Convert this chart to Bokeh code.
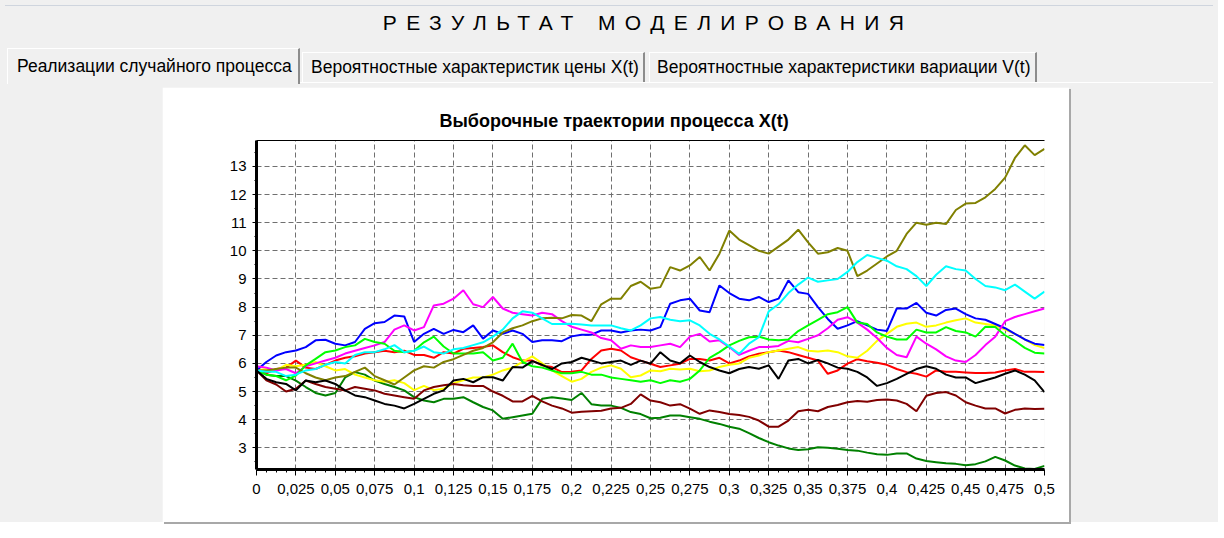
from bokeh.plotting import figure
from bokeh.models import Range1d, FixedTicker, CustomJSTickFormatter, LinearAxis, Div, Spacer
from bokeh.layouts import column, row
from bokeh.embed import file_html
from bokeh.resources import INLINE

# ---------------- data ----------------
T = [round(i * 0.00625, 5) for i in range(81)]

RED = [5.75, 5.65, 5.8, 5.85, 6.1, 5.85, 5.8, 5.95, 6.1, 6.2,
       6.25, 6.35, 6.4, 6.45, 6.4, 6.45, 6.3, 6.3, 6.2, 6.4,
       6.35, 6.52, 6.55, 6.58, 6.64, 6.4, 6.22, 6.1, 6.1, 5.93,
       5.87, 5.69, 5.7, 5.75, 6.16, 6.46, 6.52, 6.46, 6.22, 6.1,
       5.99, 5.87, 5.93, 5.99, 6.16, 6.16, 6.1, 6.2, 6.0, 6.1,
       6.25, 6.34, 6.4, 6.46, 6.4, 6.3, 6.2, 6.1, 5.63, 5.75,
       5.99, 6.15, 6.08, 6.02, 5.95, 5.8, 5.69, 5.63, 5.53, 5.75,
       5.7, 5.7, 5.68, 5.66, 5.66, 5.68, 5.75, 5.8, 5.7, 5.7, 5.69]

GREEN = [5.75, 5.6, 5.55, 5.55, 5.39, 5.16, 4.95, 4.86, 4.95, 5.5,
         5.69, 5.6, 5.39, 5.27, 5.16, 5.04, 4.8, 4.68, 4.62, 4.74,
         4.74, 4.8, 4.62, 4.45, 4.33, 4.03, 4.09, 4.15, 4.21, 4.74,
         4.8, 4.75, 4.7, 4.95, 4.55, 4.5, 4.5, 4.42, 4.27, 4.2,
         4.05, 4.07, 4.15, 4.15, 4.09, 4.03, 3.93, 3.85, 3.75, 3.68,
         3.52, 3.35, 3.2, 3.08, 2.98, 2.92, 2.95, 3.02, 3.0, 2.97,
         2.92, 2.9, 2.83, 2.77, 2.75, 2.8, 2.8, 2.62, 2.53, 2.49,
         2.45, 2.43, 2.38, 2.42, 2.52, 2.68, 2.55, 2.37, 2.27, 2.25, 2.36]

YELLOW = [5.75, 5.8, 5.75, 5.95, 5.9, 5.95, 6.05, 5.9, 5.75, 5.8,
          5.6, 5.5, 5.4, 5.35, 5.4, 5.3, 5.05, 5.2, 5.05, 5.1,
          5.3, 5.4, 5.5, 5.5, 5.6, 5.75, 5.85, 6.05, 6.25, 6.0,
          5.75, 5.55, 5.35, 5.45, 5.7, 5.85, 5.93, 5.81, 5.51, 5.57,
          5.75, 5.72, 5.81, 5.78, 5.81, 5.72, 5.75, 5.87, 5.95, 6.0,
          6.2, 6.28, 6.4, 6.46, 6.52, 6.58, 6.45, 6.42, 6.46, 6.4,
          6.25, 6.2, 6.45, 6.8, 7.05, 7.3, 7.41, 7.45, 7.3, 7.35,
          7.45, 7.53, 7.6, 7.45, 7.4, 7.35, 7.2, 7.05, 6.85, 6.65, 6.55]

BLUE = [5.75, 6.05, 6.28, 6.4, 6.46, 6.58, 6.82, 6.84, 6.70, 6.64,
        6.76, 7.23, 7.43, 7.47, 7.70, 7.67, 6.76, 7.05, 7.23, 7.05,
        7.19, 7.11, 7.35, 6.88, 7.17, 7.05, 7.17, 7.05, 6.76, 6.82,
        6.82, 6.79, 6.96, 7.02, 7.02, 7.17, 7.17, 7.1, 7.17, 7.2,
        7.17, 7.29, 8.12, 8.24, 8.3, 7.88, 7.82, 8.77, 8.5, 8.3,
        8.24, 8.36, 8.18, 8.3, 8.95, 8.53, 8.47, 8.0, 7.58, 7.23,
        7.35, 7.5, 7.35, 7.2, 7.15, 7.95, 7.95, 8.15, 7.8, 7.7,
        7.9, 7.95, 7.75, 7.6, 7.55, 7.4, 7.25, 7.05, 6.85, 6.7, 6.65]

MAGENTA = [5.9, 5.85, 5.75, 5.8, 5.65, 5.9, 6.0, 6.1, 6.2, 6.35,
           6.45, 6.55, 6.64, 6.76, 7.2, 7.35, 7.17, 7.29, 8.06, 8.12,
           8.3, 8.6, 8.1, 8.0, 8.36, 7.95, 7.8, 7.75, 7.7, 7.8,
           7.75, 7.5, 7.3, 7.2, 7.1, 6.9, 6.82, 6.52, 6.64, 6.58,
           6.58, 6.64, 6.7, 6.58, 6.95, 7.05, 6.78, 6.82, 6.58, 6.3,
           6.45, 6.58, 6.58, 6.62, 6.8, 6.75, 6.87, 7.0, 7.25, 7.55,
           7.64, 7.45, 7.2, 6.9, 6.55, 6.3, 6.22, 6.95, 6.7, 6.5,
           6.25, 6.1, 6.05, 6.3, 6.65, 6.95, 7.5, 7.65, 7.75, 7.85, 7.95]

MAROON = [5.75, 5.4, 5.25, 5.0, 5.1, 5.39, 5.27, 5.16, 5.1, 5.04,
          5.16, 5.1, 5.04, 4.92, 4.86, 4.8, 4.74, 5.04, 5.16, 5.22,
          5.27, 5.22, 5.2, 5.2, 5.0, 4.85, 4.65, 4.65, 4.85, 4.65,
          4.5, 4.4, 4.25, 4.28, 4.3, 4.32, 4.4, 4.42, 4.56, 4.9,
          4.68, 4.62, 4.5, 4.55, 4.39, 4.21, 4.33, 4.27, 4.2, 4.17,
          4.1, 3.97, 3.75, 3.75, 3.97, 4.3, 4.35, 4.3, 4.45, 4.52,
          4.62, 4.66, 4.64, 4.7, 4.72, 4.68, 4.56, 4.3, 4.85, 4.95,
          4.98, 4.86, 4.62, 4.5, 4.4, 4.4, 4.22, 4.35, 4.4, 4.38, 4.39]

LIME = [5.75, 5.6, 5.55, 5.4, 5.57, 5.93, 6.16, 6.4, 6.46, 6.58,
        6.64, 6.87, 6.76, 6.7, 6.45, 6.4, 6.45, 6.75, 6.95, 6.6,
        6.35, 6.35, 6.35, 6.4, 6.1, 6.2, 6.7, 6.05, 5.9, 5.85,
        5.75, 5.65, 5.65, 5.7, 5.6, 5.6, 5.5, 5.45, 5.4, 5.35,
        5.4, 5.3, 5.4, 5.35, 5.45, 5.75, 6.2, 6.4, 6.64, 6.8,
        6.93, 6.95, 6.85, 6.82, 6.85, 7.15, 7.35, 7.55, 7.75, 7.82,
        8.0, 7.45, 7.4, 7.1, 6.95, 6.85, 6.85, 7.2, 7.1, 7.1,
        7.29, 7.15, 7.1, 6.95, 7.3, 7.29, 7.0, 6.8, 6.55, 6.38, 6.35]

OLIVE = [5.75, 5.75, 5.8, 5.85, 5.85, 5.65, 5.5, 5.4, 5.5, 5.55,
         5.7, 5.85, 5.55, 5.4, 5.25, 5.5, 5.75, 5.9, 5.85, 6.05,
         6.15, 6.3, 6.45, 6.55, 6.75, 7.1, 7.25, 7.35, 7.5, 7.6,
         7.62, 7.6, 7.72, 7.7, 7.5, 8.1, 8.3, 8.3, 8.75, 8.9,
         8.65, 8.71, 9.42, 9.3, 9.48, 9.78, 9.3, 9.9, 10.72, 10.4,
         10.2, 10.0, 9.9, 10.15, 10.4, 10.75, 10.3, 9.9, 9.95, 10.1,
         10.0, 9.1, 9.3, 9.55, 9.8, 10.0, 10.6, 11.0, 10.93, 11.0,
         10.95, 11.45, 11.68, 11.7, 11.9, 12.2, 12.6, 13.3, 13.75, 13.4, 13.62]

CYAN = [5.75, 5.7, 5.7, 5.55, 5.6, 5.75, 5.8, 5.95, 6.05, 6.0,
        6.3, 6.4, 6.4, 6.5, 6.65, 6.4, 6.45, 6.6, 6.4, 6.35,
        6.5, 6.55, 6.65, 6.75, 6.95, 7.2, 7.6, 7.85, 7.8, 7.6,
        7.4, 7.4, 7.41, 7.38, 7.35, 7.35, 7.35, 7.25, 7.17, 7.35,
        7.6, 7.65, 7.55, 7.5, 7.53, 7.35, 7.05, 6.85, 6.6, 6.34,
        6.7, 6.93, 7.85, 8.1, 8.5, 8.8, 9.05, 8.9, 8.95, 9.0,
        9.25, 9.6, 9.85, 9.75, 9.65, 9.45, 9.35, 9.1, 8.75, 9.15,
        9.45, 9.35, 9.3, 9.0, 8.75, 8.7, 8.6, 8.8, 8.55, 8.3, 8.55]

BLACK = [5.75, 5.45, 5.33, 5.27, 5.04, 5.39, 5.33, 5.39, 5.27, 5.04,
         4.86, 4.8, 4.68, 4.56, 4.5, 4.4, 4.56, 4.74, 4.92, 5.04,
         5.39, 5.45, 5.33, 5.51, 5.51, 5.39, 5.87, 5.85, 6.08, 5.95,
         5.8, 6.0, 6.05, 6.2, 6.1, 6.0, 6.05, 6.1, 5.95, 6.1,
         5.99, 6.4, 6.1, 6.0, 6.28, 6.05, 5.87, 5.75, 5.65, 5.8,
         5.87, 5.81, 5.93, 5.45, 6.1, 6.16, 6.0, 6.12, 6.0, 5.85,
         5.81, 5.7, 5.5, 5.2, 5.3, 5.45, 5.63, 5.8, 5.9, 5.81,
         5.6, 5.5, 5.5, 5.3, 5.4, 5.5, 5.63, 5.75, 5.6, 5.4, 4.98]

SERIES = [
    ("red", RED, "#ff0000"),
    ("green", GREEN, "#008000"),
    ("yellow", YELLOW, "#ffff00"),
    ("blue", BLUE, "#0000ff"),
    ("magenta", MAGENTA, "#ff00ff"),
    ("maroon", MAROON, "#800000"),
    ("lime", LIME, "#00ff00"),
    ("olive", OLIVE, "#808000"),
    ("cyan", CYAN, "#00ffff"),
    ("black", BLACK, "#000000"),
]

X_TICKS = [round(i * 0.025, 4) for i in range(21)]
X_MINOR = [round(i * 0.00625, 5) for i in range(81) if i % 4]
Y_TICKS = list(range(3, 14))
Y_MINOR = [y + 0.5 for y in range(2, 14)]
Y_MIN, Y_MAX = 2.23, 13.92

MAIN_TITLE = "РЕЗУЛЬТАТ МОДЕЛИРОВАНИЯ"
TABS = ["Реализации случайного процесса",
        "Вероятностные характеристик цены X(t)",
        "Вероятностные характеристики вариации V(t)"]
CHART_TITLE = "Выборочные траектории процесса X(t)"

FONT = "Liberation Sans"
CSS_FONT = "Arial, 'Liberation Sans', sans-serif"

# ---------------- chart ----------------
p = figure(width=907, height=435,
           x_range=Range1d(0, 0.5), y_range=Range1d(Y_MIN, Y_MAX),
           output_backend="svg", toolbar_location=None,
           min_border_left=94, min_border_right=25,
           min_border_top=53, min_border_bottom=53,
           background_fill_color="white", border_fill_color="white")
p.outline_line_color = None
p.styles = {"box-shadow": "2px 2px 0 #a8a8a8"}

p.title.text = CHART_TITLE
p.title.text_font = FONT
p.title.text_font_size = "18px"
p.title.text_font_style = "bold"
p.title.text_color = "#000000"
p.title.align = "left"
p.title.offset = 183
p.title.standoff = 20

for name, vals, col in SERIES:
    assert len(vals) == len(T), name
    p.line(T, vals, line_color=col, line_width=2)

xa = p.xaxis[0]
xa.ticker = FixedTicker(ticks=X_TICKS, minor_ticks=X_MINOR)
xa.formatter = CustomJSTickFormatter(code="""
let s = tick.toFixed(4);
s = s.replace(/0+$/, '');
s = s.replace(/\\.$/, '');
return s.replace('.', ',');
""")
xa.axis_line_width = 3
xa.axis_line_color = "black"
xa.major_tick_out = 6
xa.major_tick_in = 0
xa.minor_tick_out = 3
xa.minor_tick_in = 0
xa.major_tick_line_color = "black"
xa.minor_tick_line_color = "black"
xa.major_label_standoff = 8
xa.major_label_text_font = FONT
xa.major_label_text_font_size = "15px"
xa.major_label_text_color = "black"

ya = p.yaxis[0]
ya.ticker = FixedTicker(ticks=Y_TICKS, minor_ticks=Y_MINOR)
ya.axis_line_width = 3
ya.axis_line_color = "black"
ya.major_tick_out = 4
ya.major_tick_in = 0
ya.minor_tick_out = 2
ya.minor_tick_in = 0
ya.major_tick_line_color = "black"
ya.minor_tick_line_color = "black"
ya.major_label_standoff = 6
ya.major_label_text_font = FONT
ya.major_label_text_font_size = "15px"
ya.major_label_text_color = "black"

top_axis = LinearAxis(ticker=FixedTicker(ticks=[]), axis_line_color="black",
                      axis_line_width=1, major_tick_out=0, major_tick_in=0,
                      minor_tick_out=0, minor_tick_in=0,
                      major_label_text_font_size="0px")
p.add_layout(top_axis, "above")

for g in (p.xgrid[0], p.ygrid[0]):
    g.grid_line_color = "#707070"
    g.grid_line_dash = "5 3"
    g.grid_line_width = 1
p.xgrid[0].ticker = FixedTicker(ticks=X_TICKS)
p.ygrid[0].ticker = FixedTicker(ticks=Y_TICKS)

# ---------------- window chrome ----------------
def tab_html(label, left, top, width, height, pad):
    return (f'<div style="position:absolute;box-sizing:border-box;left:{left}px;top:{top}px;'
            f'width:{width}px;height:{height}px;border-left:1px solid #ffffff;border-top:1px solid #ffffff;'
            f'border-right:2px solid #8c8c8c;background:#f0f0f0;padding-left:{pad}px;'
            f'line-height:{height - 2}px;white-space:nowrap;font-size:17.5px;color:#000;">{label}</div>')

header_html = (
    f'<div style="position:relative;width:1208px;height:77px;font-family:{CSS_FONT};">'
    f'<div style="position:absolute;left:0;top:0;width:1208px;height:1px;background:#cfd5de;"></div>'
    f'<div style="position:absolute;left:0;top:6px;width:1286px;text-align:center;font-size:21px;'
    f'line-height:24px;letter-spacing:9.4px;color:#000;white-space:nowrap;">{MAIN_TITLE}</div>'
    f'<div style="position:absolute;left:295px;top:77px;width:913px;height:1px;background:#ffffff;"></div>'
    + tab_html(TABS[1], 297, 47, 343, 30, 8)
    + tab_html(TABS[2], 644, 47, 388, 30, 7)
    + tab_html(TABS[0], 2, 43, 293, 36, 9)
    + '</div>'
)
header = Div(text=header_html, width=1208, height=77)

layout = column(
    header,
    row(Spacer(width=162, height=435), p, Spacer(width=139, height=435)),
    styles={"background-color": "#f0f0f0"},
)

open("out.html", "w").write(file_html(layout, INLINE))
